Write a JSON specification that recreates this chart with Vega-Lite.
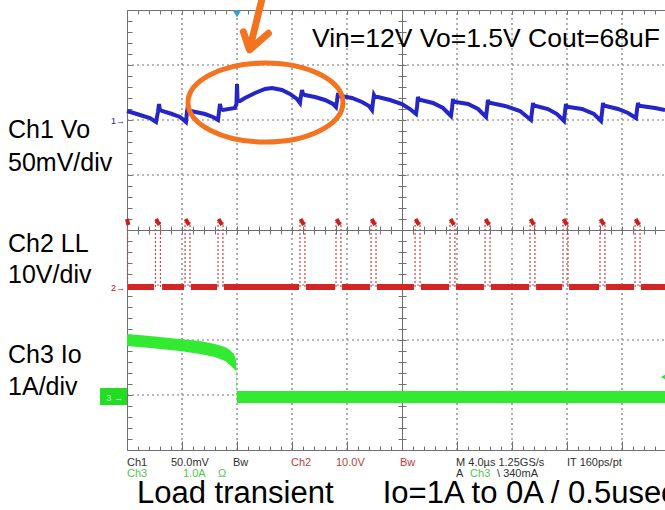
{
  "$schema": "https://vega.github.io/schema/vega-lite/v6.json",
  "width": 538,
  "height": 440,
  "autosize": "none",
  "padding": {"left": 127, "top": 10, "right": 0, "bottom": 60},
  "background": "white",
  "config": {
    "view": {"stroke": null},
    "font": "Liberation Sans",
    "axis": {"labels": false, "grid": false, "domainColor": "#707070", "tickColor": "#707070", "domainWidth": 1, "tickWidth": 1}
  },
  "datasets": {
    "origin": [{"t": 0, "v": 0}],
    "gridX": [{"t":4,"v":-4,"v2":4},{"t":8,"v":-4,"v2":4},{"t":12,"v":-4,"v2":4},{"t":16,"v":-4,"v2":4},{"t":24,"v":-4,"v2":4},{"t":28,"v":-4,"v2":4},{"t":32,"v":-4,"v2":4},{"t":36,"v":-4,"v2":4}],
    "gridY": [{"t":0,"t2":39.127,"v":-3},{"t":0,"t2":39.127,"v":-2},{"t":0,"t2":39.127,"v":-1},{"t":0,"t2":39.127,"v":1},{"t":0,"t2":39.127,"v":2},{"t":0,"t2":39.127,"v":3}],
    "ch1": [
      {"t":0,"v":2.164},{"t":0.95,"v":2.091},{"t":1.67,"v":2.036},{"t":2.11,"v":1.964},{"t":2.25,"v":2.145},{"t":2.33,"v":2.291},{"t":2.40,"v":2.182},{"t":2.55,"v":2.164},{"t":3.27,"v":2.109},{"t":3.85,"v":2.055},{"t":4.29,"v":1.964},{"t":4.36,"v":2.145},{"t":4.44,"v":2.273},{"t":4.51,"v":2.182},{"t":4.65,"v":2.164},{"t":5.67,"v":2.109},{"t":6.25,"v":2.055},{"t":6.62,"v":2.0},{"t":6.69,"v":2.145},{"t":6.76,"v":2.291},{"t":6.84,"v":2.2},{"t":6.98,"v":2.182},{"t":7.85,"v":2.218},{"t":7.96,"v":2.291},{"t":8.00,"v":2.655},{"t":8.04,"v":2.364},{"t":8.22,"v":2.345},{"t":8.58,"v":2.4},{"t":9.31,"v":2.491},{"t":10.04,"v":2.564},{"t":10.55,"v":2.582},{"t":11.27,"v":2.545},{"t":11.85,"v":2.473},{"t":12.36,"v":2.382},{"t":12.58,"v":2.309},{"t":12.65,"v":2.436},{"t":12.73,"v":2.545},{"t":12.80,"v":2.473},{"t":12.95,"v":2.455},{"t":13.67,"v":2.418},{"t":14.40,"v":2.364},{"t":14.98,"v":2.291},{"t":15.20,"v":2.236},{"t":15.27,"v":2.345},{"t":15.35,"v":2.491},{"t":15.42,"v":2.436},{"t":15.56,"v":2.436},{"t":16.36,"v":2.4},{"t":17.09,"v":2.327},{"t":17.60,"v":2.255},{"t":17.82,"v":2.182},{"t":17.89,"v":2.327},{"t":17.96,"v":2.455},{"t":18.04,"v":2.418},{"t":18.25,"v":2.418},{"t":19.13,"v":2.364},{"t":20.00,"v":2.291},{"t":20.58,"v":2.2},{"t":21.02,"v":2.109},{"t":21.09,"v":2.236},{"t":21.16,"v":2.418},{"t":21.24,"v":2.364},{"t":21.38,"v":2.364},{"t":22.25,"v":2.309},{"t":22.98,"v":2.218},{"t":23.56,"v":2.073},{"t":23.64,"v":2.218},{"t":23.71,"v":2.382},{"t":23.78,"v":2.327},{"t":23.93,"v":2.327},{"t":24.80,"v":2.291},{"t":25.53,"v":2.2},{"t":26.11,"v":2.055},{"t":26.18,"v":2.2},{"t":26.25,"v":2.364},{"t":26.33,"v":2.309},{"t":26.47,"v":2.309},{"t":27.49,"v":2.255},{"t":28.58,"v":2.164},{"t":29.38,"v":2.0},{"t":29.45,"v":2.145},{"t":29.53,"v":2.309},{"t":29.60,"v":2.255},{"t":29.75,"v":2.255},{"t":30.62,"v":2.2},{"t":31.27,"v":2.109},{"t":31.78,"v":1.982},{"t":31.85,"v":2.145},{"t":31.93,"v":2.291},{"t":32.00,"v":2.236},{"t":32.15,"v":2.236},{"t":33.09,"v":2.2},{"t":33.96,"v":2.109},{"t":34.47,"v":1.982},{"t":34.55,"v":2.145},{"t":34.62,"v":2.309},{"t":34.69,"v":2.255},{"t":34.84,"v":2.255},{"t":35.71,"v":2.2},{"t":36.44,"v":2.127},{"t":37.02,"v":2.036},{"t":37.09,"v":2.182},{"t":37.16,"v":2.309},{"t":37.24,"v":2.255},{"t":37.38,"v":2.255},{"t":38.40,"v":2.218},{"t":39.13,"v":2.182}
    ],
    "ch2low": [
      {"t":0.07,"t2":1.96,"v":-1.036},{"t":2.55,"t2":4.15,"v":-1.036},{"t":4.65,"t2":6.55,"v":-1.036},{"t":7.05,"t2":12.51,"v":-1.036},{"t":13.02,"t2":15.13,"v":-1.036},{"t":15.64,"t2":17.67,"v":-1.036},{"t":18.18,"t2":20.87,"v":-1.036},{"t":21.38,"t2":23.42,"v":-1.036},{"t":23.93,"t2":25.96,"v":-1.036},{"t":26.47,"t2":29.24,"v":-1.036},{"t":29.75,"t2":31.64,"v":-1.036},{"t":32.15,"t2":34.33,"v":-1.036},{"t":34.84,"t2":36.87,"v":-1.036},{"t":37.38,"t2":39.13,"v":-1.036}
    ],
    "ch2edge": [
      {"t":0.04,"v":-1.036,"v2":0.145},{"t":2.07,"v":-1.036,"v2":0.145},{"t":2.43,"v":-1.036,"v2":0.145},{"t":4.22,"v":-1.036,"v2":0.145},{"t":4.58,"v":-1.036,"v2":0.145},{"t":6.62,"v":-1.036,"v2":0.145},{"t":6.98,"v":-1.036,"v2":0.145},{"t":12.58,"v":-1.036,"v2":0.145},{"t":12.94,"v":-1.036,"v2":0.145},{"t":15.20,"v":-1.036,"v2":0.145},{"t":15.56,"v":-1.036,"v2":0.145},{"t":17.75,"v":-1.036,"v2":0.145},{"t":18.11,"v":-1.036,"v2":0.145},{"t":20.95,"v":-1.036,"v2":0.145},{"t":21.31,"v":-1.036,"v2":0.145},{"t":23.49,"v":-1.036,"v2":0.145},{"t":23.85,"v":-1.036,"v2":0.145},{"t":26.04,"v":-1.036,"v2":0.145},{"t":26.40,"v":-1.036,"v2":0.145},{"t":29.31,"v":-1.036,"v2":0.145},{"t":29.67,"v":-1.036,"v2":0.145},{"t":31.71,"v":-1.036,"v2":0.145},{"t":32.07,"v":-1.036,"v2":0.145},{"t":34.40,"v":-1.036,"v2":0.145},{"t":34.76,"v":-1.036,"v2":0.145},{"t":36.95,"v":-1.036,"v2":0.145},{"t":37.31,"v":-1.036,"v2":0.145}
    ],
    "ch2top": [
      {"t":0.0,"t2":0.1,"v":0.2,"v2":0.09},{"t":2.11,"t2":2.36,"v":0.2,"v2":0.09},{"t":4.26,"t2":4.51,"v":0.2,"v2":0.09},{"t":6.66,"t2":6.91,"v":0.2,"v2":0.09},{"t":12.62,"t2":12.87,"v":0.2,"v2":0.09},{"t":15.24,"t2":15.49,"v":0.2,"v2":0.09},{"t":17.79,"t2":18.04,"v":0.2,"v2":0.09},{"t":20.99,"t2":21.24,"v":0.2,"v2":0.09},{"t":23.53,"t2":23.78,"v":0.2,"v2":0.09},{"t":26.08,"t2":26.33,"v":0.2,"v2":0.09},{"t":29.35,"t2":29.60,"v":0.2,"v2":0.09},{"t":31.75,"t2":32.00,"v":0.2,"v2":0.09},{"t":34.44,"t2":34.69,"v":0.2,"v2":0.09},{"t":36.99,"t2":37.24,"v":0.2,"v2":0.09}
    ],
    "ch3": [
      {"t":0,"v":-1.891,"v2":-2.109},{"t":1.67,"v":-1.927,"v2":-2.145},{"t":3.85,"v":-1.982,"v2":-2.2},{"t":5.31,"v":-2.018,"v2":-2.255},{"t":6.40,"v":-2.073,"v2":-2.309},{"t":7.13,"v":-2.127,"v2":-2.382},{"t":7.49,"v":-2.182,"v2":-2.455},{"t":7.78,"v":-2.255,"v2":-2.527},{"t":7.93,"v":-2.364,"v2":-2.564},{"t":8.0,"v":-2.927,"v2":-3.145},{"t":39.13,"v":-2.927,"v2":-3.145}
    ],
    "arrow": [
      {"t":9.80,"v":4.182,"seg":"shaft","i":0},{"t":8.93,"v":3.30,"seg":"shaft","i":1},
      {"t":8.46,"v":3.605,"seg":"head","i":0},{"t":8.91,"v":3.273,"seg":"head","i":1},{"t":10.28,"v":3.576,"seg":"head","i":2}
    ],
    "bigLabels": [
      {"t":-8.65,"v":1.673,"label":"Ch1 Vo"},{"t":-8.65,"v":1.073,"label":"50mV/div"},
      {"t":-8.65,"v":-0.4,"label":"Ch2 LL"},{"t":-8.65,"v":-0.964,"label":"10V/div"},
      {"t":-8.65,"v":-2.418,"label":"Ch3 Io"},{"t":-8.65,"v":-3.0,"label":"1A/div"}
    ],
    "status": [
      {"t":0.0,"v":-4.291,"label":"Ch1","ch":"k"},{"t":3.2,"v":-4.291,"label":"50.0mV","ch":"k"},{"t":7.71,"v":-4.291,"label":"Bw","ch":"k"},
      {"t":11.93,"v":-4.291,"label":"Ch2","ch":"r"},{"t":15.2,"v":-4.291,"label":"10.0V","ch":"r"},{"t":19.85,"v":-4.291,"label":"Bw","ch":"r"},
      {"t":23.93,"v":-4.291,"label":"M 4.0µs 1.25GS/s","ch":"k"},{"t":32.0,"v":-4.291,"label":"IT 160ps/pt","ch":"k"},
      {"t":0.0,"v":-4.491,"label":"Ch3","ch":"g"},{"t":4.07,"v":-4.491,"label":"1.0A","ch":"g"},{"t":6.62,"v":-4.491,"label":"Ω","ch":"g"},
      {"t":23.93,"v":-4.491,"label":"A","ch":"k"},{"t":24.95,"v":-4.491,"label":"Ch3","ch":"g"},{"t":26.91,"v":-4.491,"label":"\\ 340mA","ch":"k"}
    ]
  },
  "encoding": {
    "x": {"field": "t", "type": "quantitative", "scale": {"domain": [0, 39.127], "nice": false, "zero": false}, "axis": null},
    "y": {"field": "v", "type": "quantitative", "scale": {"domain": [-4, 4], "nice": false, "zero": false}, "axis": null}
  },
  "resolve": {"axis": {"x": "independent", "y": "independent"}},
  "layer": [
    {
      "data": {"name": "gridX"},
      "mark": {"type": "rule", "color": "#777777", "strokeWidth": 1.2, "strokeDash": [2, 3]},
      "encoding": {"y2": {"field": "v2"}}
    },
    {
      "data": {"name": "gridY"},
      "mark": {"type": "rule", "color": "#777777", "strokeWidth": 1.2, "strokeDash": [2, 3]},
      "encoding": {"x2": {"field": "t2"}}
    },
    {
      "data": {"name": "origin"},
      "mark": {"type": "point", "opacity": 0},
      "encoding": {
        "x": {"field": "t", "type": "quantitative", "scale": {"domain": [0, 39.127], "nice": false, "zero": false},
              "axis": {"orient": "bottom", "title": null, "domain": true, "tickSize": -4,
                       "values": [0,0.8,1.6,2.4,3.2,4,4.8,5.6,6.4,7.2,8,8.8,9.6,10.4,11.2,12,12.8,13.6,14.4,15.2,16,16.8,17.6,18.4,19.2,20,20.8,21.6,22.4,23.2,24,24.8,25.6,26.4,27.2,28,28.8,29.6,30.4,31.2,32,32.8,33.6,34.4,35.2,36,36.8,37.6,38.4]}},
        "y": {"field": "v", "type": "quantitative", "scale": {"domain": [-4, 4], "nice": false, "zero": false},
              "axis": {"orient": "left", "title": null, "domain": true, "tickSize": -5,
                       "values": [-3.8,-3.6,-3.4,-3.2,-3,-2.8,-2.6,-2.4,-2.2,-2,-1.8,-1.6,-1.4,-1.2,-1,-0.8,-0.6,-0.4,-0.2,0,0.2,0.4,0.6,0.8,1,1.2,1.4,1.6,1.8,2,2.2,2.4,2.6,2.8,3,3.2,3.4,3.6,3.8]}}
      }
    },
    {
      "data": {"name": "origin"},
      "mark": {"type": "point", "opacity": 0},
      "encoding": {
        "x": {"field": "t", "type": "quantitative", "scale": {"domain": [0, 39.127], "nice": false, "zero": false},
              "axis": {"orient": "bottom", "title": null, "domain": false, "tickSize": -9, "values": [4, 8, 12, 16, 20, 24, 28, 32, 36]}},
        "y": {"field": "v", "type": "quantitative", "scale": {"domain": [-4, 4], "nice": false, "zero": false},
              "axis": {"orient": "left", "title": null, "offset": -275, "domain": true, "tickSize": -4,
                       "values": [-3.8,-3.6,-3.4,-3.2,-3,-2.8,-2.6,-2.4,-2.2,-2,-1.8,-1.6,-1.4,-1.2,-1,-0.8,-0.6,-0.4,-0.2,0,0.2,0.4,0.6,0.8,1,1.2,1.4,1.6,1.8,2,2.2,2.4,2.6,2.8,3,3.2,3.4,3.6,3.8]}}
      }
    },
    {
      "data": {"name": "origin"},
      "mark": {"type": "point", "opacity": 0},
      "encoding": {
        "x": {"field": "t", "type": "quantitative", "scale": {"domain": [0, 39.127], "nice": false, "zero": false},
              "axis": {"orient": "top", "title": null, "domain": true, "tickSize": -4,
                       "values": [0,0.8,1.6,2.4,3.2,4,4.8,5.6,6.4,7.2,8,8.8,9.6,10.4,11.2,12,12.8,13.6,14.4,15.2,16,16.8,17.6,18.4,19.2,20,20.8,21.6,22.4,23.2,24,24.8,25.6,26.4,27.2,28,28.8,29.6,30.4,31.2,32,32.8,33.6,34.4,35.2,36,36.8,37.6,38.4]}},
        "y": {"field": "v", "type": "quantitative", "scale": {"domain": [-4, 4], "nice": false, "zero": false},
              "axis": {"orient": "left", "title": null, "offset": -275, "domain": false, "tickSize": 4,
                       "values": [-3.8,-3.6,-3.4,-3.2,-3,-2.8,-2.6,-2.4,-2.2,-2,-1.8,-1.6,-1.4,-1.2,-1,-0.8,-0.6,-0.4,-0.2,0,0.2,0.4,0.6,0.8,1,1.2,1.4,1.6,1.8,2,2.2,2.4,2.6,2.8,3,3.2,3.4,3.6,3.8]}}
      }
    },
    {
      "data": {"name": "origin"},
      "mark": {"type": "point", "opacity": 0},
      "encoding": {
        "x": {"field": "t", "type": "quantitative", "scale": {"domain": [0, 39.127], "nice": false, "zero": false},
              "axis": {"orient": "bottom", "title": null, "offset": -220, "domain": true, "tickSize": 4,
                       "values": [0.8,1.6,2.4,3.2,4,4.8,5.6,6.4,7.2,8,8.8,9.6,10.4,11.2,12,12.8,13.6,14.4,15.2,16,16.8,17.6,18.4,19.2,20,20.8,21.6,22.4,23.2,24,24.8,25.6,26.4,27.2,28,28.8,29.6,30.4,31.2,32,32.8,33.6,34.4,35.2,36,36.8,37.6,38.4]}}
      }
    },
    {
      "data": {"name": "origin"},
      "mark": {"type": "point", "opacity": 0},
      "encoding": {
        "x": {"field": "t", "type": "quantitative", "scale": {"domain": [0, 39.127], "nice": false, "zero": false},
              "axis": {"orient": "bottom", "title": null, "offset": -220, "domain": false, "tickSize": -4,
                       "values": [0.8,1.6,2.4,3.2,4,4.8,5.6,6.4,7.2,8,8.8,9.6,10.4,11.2,12,12.8,13.6,14.4,15.2,16,16.8,17.6,18.4,19.2,20,20.8,21.6,22.4,23.2,24,24.8,25.6,26.4,27.2,28,28.8,29.6,30.4,31.2,32,32.8,33.6,34.4,35.2,36,36.8,37.6,38.4]}}
      }
    },
    {
      "data": {"name": "ch3"},
      "mark": {"type": "area", "color": "#33ea33"},
      "encoding": {"y2": {"field": "v2"}}
    },
    {
      "data": {"name": "ch2edge"},
      "mark": {"type": "rule", "color": "#d84040", "strokeWidth": 1.2, "strokeDash": [2, 2]},
      "encoding": {"y2": {"field": "v2"}}
    },
    {
      "data": {"name": "ch2low"},
      "mark": {"type": "rule", "color": "#d42424", "strokeWidth": 6},
      "encoding": {"x2": {"field": "t2"}}
    },
    {
      "data": {"name": "ch2top"},
      "mark": {"type": "rule", "color": "#c82020", "strokeWidth": 4},
      "encoding": {"x2": {"field": "t2"}, "y2": {"field": "v2"}}
    },
    {
      "data": {"name": "ch1"},
      "mark": {"type": "line", "color": "#2626c6", "strokeWidth": 4}
    },
    {
      "data": {"values": [{"t": 10.07, "v": 2.318}]},
      "mark": {"type": "point", "filled": false, "opacity": 1, "stroke": "#f47321", "strokeWidth": 5, "size": 24025,
               "shape": "M-1,0C-1,-0.2817,-0.5523,-0.51,0,-0.51C0.5523,-0.51,1,-0.2817,1,0C1,0.2817,0.5523,0.51,0,0.51C-0.5523,0.51,-1,0.2817,-1,0Z"}
    },
    {
      "data": {"name": "arrow"},
      "mark": {"type": "line", "color": "#f47321", "strokeWidth": 7, "strokeCap": "round", "strokeJoin": "round"},
      "encoding": {"detail": {"field": "seg"}, "order": {"field": "i"}}
    },
    {
      "data": {"values": [{"t": 8.0, "v": 3.93}]},
      "mark": {"type": "point", "shape": "triangle-down", "filled": true, "color": "#3aa0c8", "size": 70, "opacity": 1}
    },
    {
      "data": {"values": [{"t": 38.98, "v": -2.673}]},
      "mark": {"type": "point", "shape": "triangle-left", "filled": true, "color": "#30e030", "size": 20, "opacity": 1}
    },
    {
      "data": {"values": [{"t": -1.96, "t2": 0, "v": -2.873, "v2": -3.182}]},
      "mark": {"type": "rect", "color": "#22dd22"},
      "encoding": {"x2": {"field": "t2"}, "y2": {"field": "v2"}}
    },
    {
      "data": {"values": [{"t": -1.5, "v": -3.1, "label": "3 →"}]},
      "mark": {"type": "text", "align": "left", "baseline": "alphabetic", "fontSize": 9, "color": "#c8ffc8"},
      "encoding": {"text": {"field": "label"}}
    },
    {
      "data": {"values": [{"t": -1.16, "v": 1.93, "label": "1→"}]},
      "mark": {"type": "text", "align": "left", "baseline": "alphabetic", "fontSize": 9, "color": "#1c1c9c"},
      "encoding": {"text": {"field": "label"}}
    },
    {
      "data": {"values": [{"t": -1.16, "v": -1.11, "label": "2→"}]},
      "mark": {"type": "text", "align": "left", "baseline": "alphabetic", "fontSize": 9, "color": "#c02020"},
      "encoding": {"text": {"field": "label"}}
    },
    {
      "data": {"name": "bigLabels"},
      "mark": {"type": "text", "align": "left", "baseline": "alphabetic", "fontSize": 25, "color": "#000000"},
      "encoding": {"text": {"field": "label"}}
    },
    {
      "data": {"values": [{"t": 13.45, "v": 3.327, "label": "Vin=12V Vo=1.5V Cout=68uF"}]},
      "mark": {"type": "text", "align": "left", "baseline": "alphabetic", "fontSize": 26.5, "color": "#000000"},
      "encoding": {"text": {"field": "label"}}
    },
    {
      "data": {"values": [{"t": 0.73, "v": -4.96, "label": "Load transient"}, {"t": 18.6, "v": -4.96, "label": "Io=1A to 0A / 0.5usec"}]},
      "mark": {"type": "text", "align": "left", "baseline": "alphabetic", "fontSize": 31, "color": "#000000"},
      "encoding": {"text": {"field": "label"}}
    },
    {
      "data": {"name": "status"},
      "mark": {"type": "text", "align": "left", "baseline": "alphabetic", "fontSize": 11},
      "encoding": {
        "text": {"field": "label"},
        "color": {"field": "ch", "type": "nominal", "scale": {"domain": ["k", "r", "g"], "range": ["#303030", "#b83c3c", "#4cc84c"]}, "legend": null}
      }
    }
  ]
}
